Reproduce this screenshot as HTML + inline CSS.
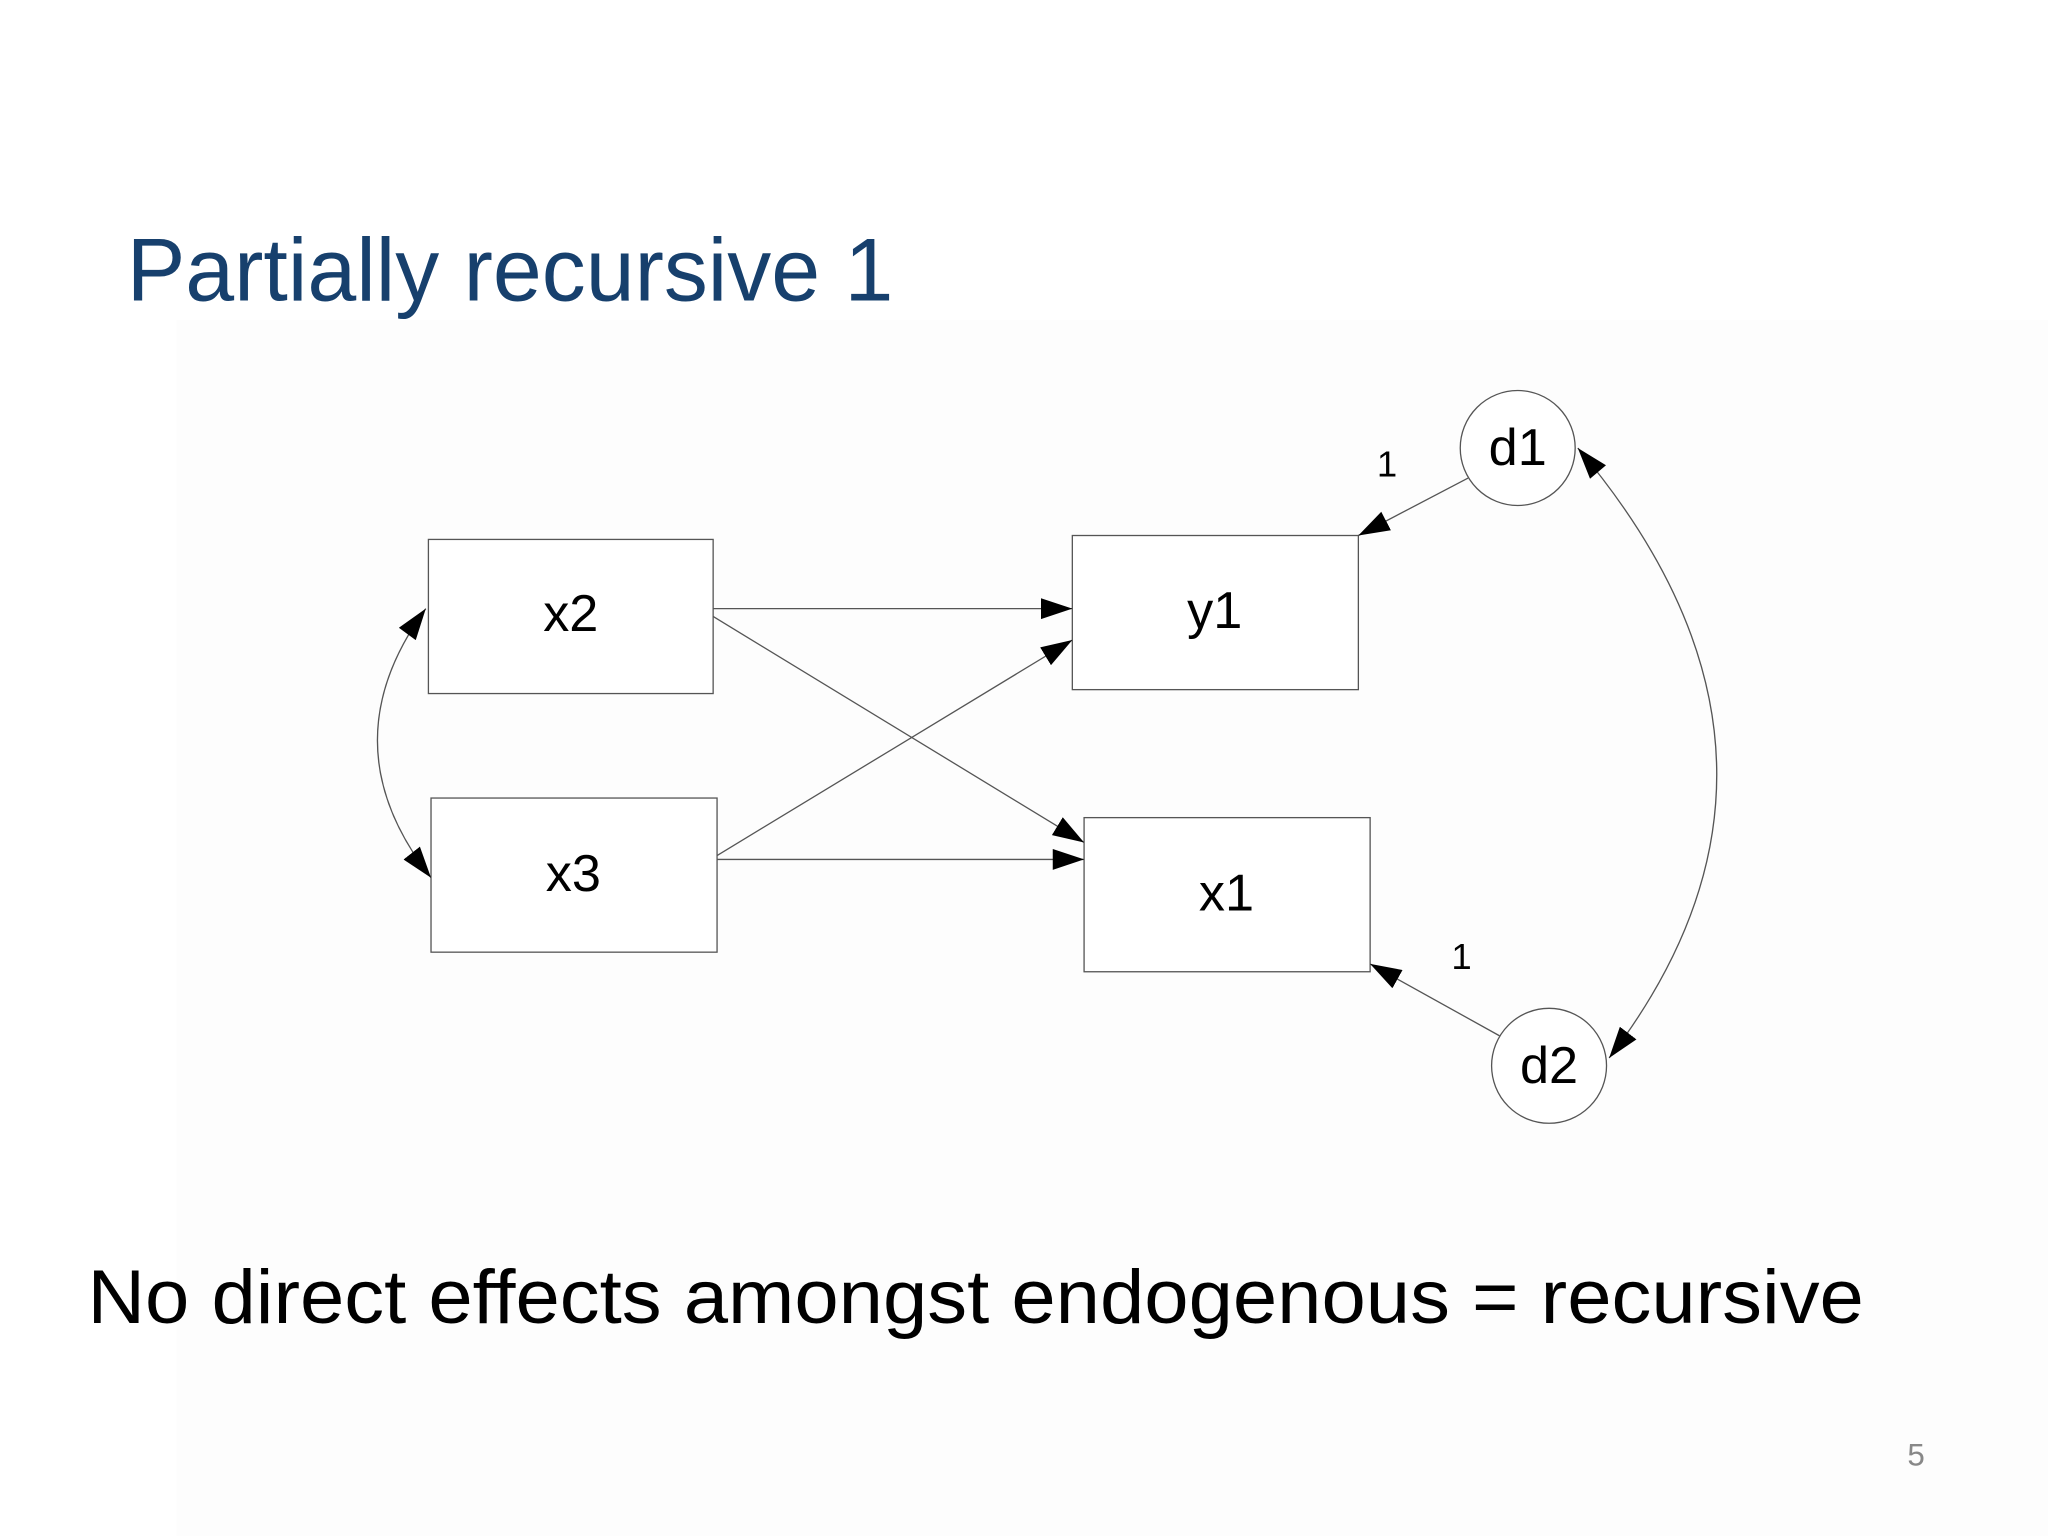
<!DOCTYPE html>
<html><head><meta charset="utf-8"><style>
html,body{margin:0;padding:0;background:#fff;}
svg{display:block;}
</style></head><body>
<svg width="2048" height="1536" viewBox="0 0 1568 1176" xmlns="http://www.w3.org/2000/svg">
<defs>
<marker id="a" markerWidth="26" markerHeight="16" refX="24" refY="8" orient="auto" markerUnits="userSpaceOnUse">
<path d="M0,0 L24,8 L0,16 Z" fill="#000"/>
</marker>
<marker id="s" markerWidth="26" markerHeight="16" refX="0" refY="8" orient="auto" markerUnits="userSpaceOnUse">
<path d="M24,0 L0,8 L24,16 Z" fill="#000"/>
</marker>
</defs>
<rect x="0" y="0" width="1568" height="1176" fill="#fff"/>
<rect x="135" y="245" width="1433" height="931" fill="#fdfdfd"/>
<text x="97" y="230" font-family="Liberation Sans, sans-serif" font-size="68" fill="#17406d" textLength="587" lengthAdjust="spacingAndGlyphs">Partially recursive 1</text>
<g fill="#fff" stroke="#555" stroke-width="1">
<rect x="328" y="413" width="218" height="118"/>
<rect x="330" y="611" width="219" height="118"/>
<rect x="821" y="410" width="219" height="118"/>
<rect x="830" y="626" width="219" height="118"/>
<circle cx="1162" cy="343" r="44"/>
<circle cx="1186" cy="816" r="44"/>
</g>
<g font-family="Liberation Sans, sans-serif" font-size="40" text-anchor="middle" fill="#000">
<text x="437" y="483">x2</text>
<text x="439" y="682">x3</text>
<text x="930" y="481">y1</text>
<text x="939" y="697">x1</text>
<text x="1162" y="356">d1</text>
<text x="1186" y="829">d2</text>
</g>
<g font-family="Liberation Sans, sans-serif" font-size="28" fill="#000" text-anchor="middle">
<text x="1062" y="365">1</text>
<text x="1119" y="742">1</text>
</g>
<g stroke="#555" stroke-width="1" fill="none">
<line x1="546" y1="466" x2="821" y2="466" marker-end="url(#a)"/>
<line x1="546" y1="472" x2="830" y2="645" marker-end="url(#a)"/>
<line x1="549" y1="655" x2="821" y2="490" marker-end="url(#a)"/>
<line x1="549" y1="658" x2="830" y2="658" marker-end="url(#a)"/>
<line x1="1124" y1="366" x2="1040" y2="410" marker-end="url(#a)"/>
<line x1="1148" y1="793" x2="1049" y2="738" marker-end="url(#a)"/>
<path d="M326,466 Q250,570 330,672" marker-start="url(#s)" marker-end="url(#a)"/>
<path d="M1208,343 Q1408,580 1232,810" marker-start="url(#s)" marker-end="url(#a)"/>
</g>
<text x="67" y="1013" font-family="Liberation Sans, sans-serif" font-size="58" fill="#000" textLength="1360" lengthAdjust="spacingAndGlyphs">No direct effects amongst endogenous = recursive</text>
<text x="1467" y="1122" font-family="Liberation Sans, sans-serif" font-size="24" fill="#888" text-anchor="middle">5</text>
</svg>
</body></html>
